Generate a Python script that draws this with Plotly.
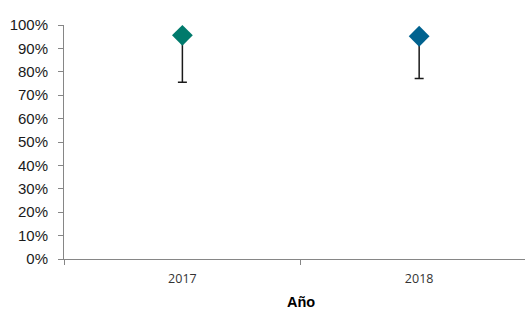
import plotly.graph_objects as go

years = ["2017", "2018"]
values = [0.956, 0.952]
lower_err = [0.201, 0.181]  # distance from value down to lower bound
colors = ["#007A6C", "#00628F"]
y_ticks = [0, 0.1, 0.2, 0.3, 0.4, 0.5, 0.6, 0.7, 0.8, 0.9, 1.0]

fig = go.Figure()
fig.add_trace(go.Scatter(
    x=years, y=values, mode="markers",
    marker=dict(symbol="diamond", size=16, color=colors, line=dict(width=0)),
    error_y=dict(type="data", symmetric=False, array=[0, 0], arrayminus=lower_err,
                 color="#1a1a1a", thickness=1.5, width=4.5),
    cliponaxis=False, showlegend=False,
))

fig.update_layout(
    width=525, height=311,
    margin=dict(l=64, r=0, t=25, b=52),
    paper_bgcolor="white", plot_bgcolor="white",
    xaxis=dict(
        type="category", range=[-0.5, 1.447], automargin=False,
        showline=True, linecolor="#868686", linewidth=1,
        ticks="outside", tickson="boundaries", ticklen=5, tickcolor="#868686",
        ticklabelstandoff=8,
        tickfont=dict(family="Open Sans, Liberation Sans, sans-serif", size=12.5, color="#333"),
        showgrid=False, zeroline=False,
    ),
    yaxis=dict(
        range=[0, 1], tickvals=y_ticks, tickformat=".0%", automargin=False,
        showline=True, linecolor="#868686", linewidth=1,
        ticks="outside", ticklen=5, tickcolor="#868686",
        ticklabelstandoff=7,
        tickfont=dict(family="Liberation Sans, Arial, sans-serif", size=15, color="#1a1a1a"),
        showgrid=False, zeroline=False,
    ),
    annotations=[dict(
        text="<b>Año</b>", xref="x", x=0.5, yref="paper", y=-0.183,
        xanchor="center", yanchor="middle", showarrow=False,
        font=dict(family="Liberation Sans, Arial, sans-serif", size=14.5, color="#000"),
    )],
)

fig.write_html("out.html", config={"displayModeBar": False},
               post_script="document.body.style.margin='0';document.body.style.overflow='hidden';")
